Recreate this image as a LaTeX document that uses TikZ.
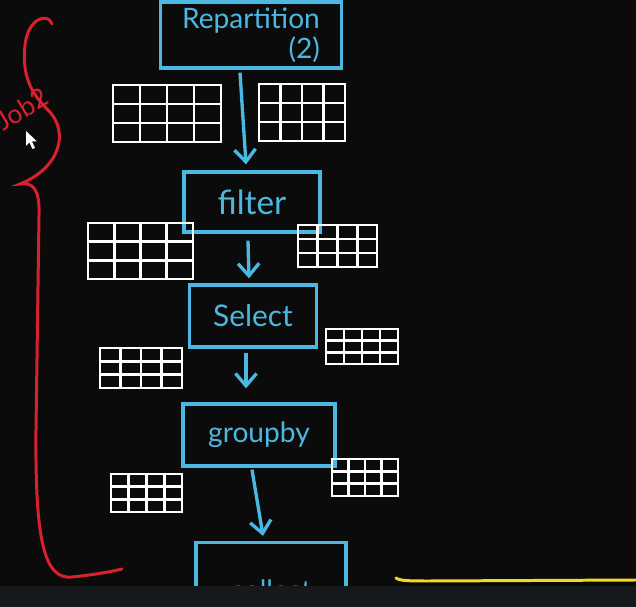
\documentclass[tikz,border=0pt]{standalone}
\usepackage{fontspec}
\setmainfont{Lato}
\usetikzlibrary{arrows.meta,calc}

\definecolor{board}{HTML}{0B0B0B}
\definecolor{pen}{HTML}{4BB8E2}
\definecolor{redpen}{HTML}{D8202E}
\definecolor{yellowpen}{HTML}{EEDC1E}
\definecolor{barcol}{HTML}{16191B}

\tikzset{
  op/.style={draw=pen, line width=1.9pt, text=pen, inner sep=0pt, font=\fontsize{16}{17}\selectfont},
  flow/.style={draw=pen, line width=1.9pt, -{Straight Barb[length=7pt,width=12pt]}},
  tbl/.style={draw=white, line width=1.7pt}
}

% 4x3 table drawn as a grid: x, y, width, height (pixels)
\newcommand{\datagrid}[4]{%
  \draw[tbl] (#1,#2) rectangle ++(#3,#4);
  \foreach \c in {1,2,3}
    \draw[tbl] ({#1+\c*#3/4},#2) -- ++(0,#4);
  \foreach \r in {1,2}
    \draw[tbl] (#1,{#2+\r*#4/3}) -- ++(#3,0);
}

\begin{document}
\begin{tikzpicture}[x=0.02cm, y=-0.02cm]

    % board
    \useasboundingbox (0,0) rectangle (636,607);
    \clip (0,0) rectangle (636,607);
    \fill[board] (0,0) rectangle (636,607);

    % stages (1px = 0.02cm)
    \node[op, minimum width=3.62cm, minimum height=1.32cm, align=right] (repart) at (251,35) {Repartition\\(2)};
    \node[op, minimum width=2.72cm, minimum height=1.2cm, font=\fontsize{19}{20}\selectfont] (filter) at (252,202) {filter};
    \node[op, minimum width=2.54cm, minimum height=1.24cm, font=\fontsize{17}{18}\selectfont] (select) at (253,316) {Select};
    \node[op, minimum width=3.04cm, minimum height=1.24cm] (groupby) at (259,435) {groupby};
    \node[op, minimum width=3cm, minimum height=1.9cm] (collect) at (271,590) {collect};

    % arrows between stages
    \draw[flow] ($(repart.south)+(-11,3)$) -- ($(filter.north)+(-6,-6)$);
    \draw[flow] ($(filter.south)+(-4,7)$) -- ($(select.north)+(-4,-5)$);
    \draw[flow] ($(select.south)+(-7,4)$) -- ($(groupby.north)+(-13,-14)$);
    \draw[flow] ($(groupby.south)+(-7,2)$) -- ($(collect.north)+(-8,-5)$);

    % partitions beside each stage
    \datagrid{113}{85}{108}{57}
    \datagrid{259}{84}{86}{57}
    \datagrid{88}{223}{105}{56}
    \datagrid{298}{225}{79}{42}
    \datagrid{100}{348}{82}{40}
    \datagrid{326}{329}{72}{35}
    \datagrid{111}{474}{71}{38}
    \datagrid{332}{459}{66}{37}

    % job brace
    \draw[redpen, line width=1.7pt, line cap=round]
      (52,24) .. controls (48,12) and (28,18) .. (25,45)
      .. controls (22,75) and (30,92) .. (48,110)
      .. controls (70,132) and (60,168) .. (20,184)
      .. controls (32,182) and (40,188) .. (39,215)
      -- (36,430)
      .. controls (35,540) and (44,580) .. (72,577)
      .. controls (92,575) and (110,572) .. (122,569);
    \node[text=redpen, rotate=31, font=\fontsize{15}{16}\selectfont] (job) at (22,109) {Job2};

    % cursor
    \fill[white] (26,131) -- (26,146) -- (29.5,142.5) -- (32.5,149) -- (35,148) -- (32,141.5) -- (37,141.5) -- cycle;

    % yellow stroke and bottom bar
    \fill[barcol] (0,586) rectangle (636,607);
    \draw[yellowpen, line width=1.7pt, line cap=round] (396,578) .. controls (400,581) and (410,581) .. (430,581) -- (636,580);

\end{tikzpicture}
\end{document}
